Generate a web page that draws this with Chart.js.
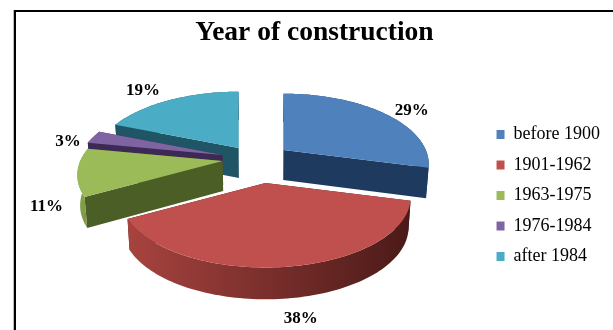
<!DOCTYPE html>
<html>
<head>
<meta charset="utf-8">
<title>Year of construction</title>
<script src="https://cdn.jsdelivr.net/npm/chart.js@4/dist/chart.umd.js"></script>
<style>
    html, body { margin: 0; padding: 0; background: #fff; overflow: hidden; }
    #frame {
        position: absolute; left: 14px; top: 10px; width: 599px; height: 325px;
        border-top: 2px solid #000; border-left: 2px solid #000;
        box-shadow: -1px 0 0 #bbb;
    }
    #frame canvas { display: block; }
</style>
</head>
<body>
<div id="frame"><canvas id="pie" width="597" height="323"></canvas></div>
<script>
const categories = ['before 1900', '1901-1962', '1963-1975', '1976-1984', 'after 1984'];
const shares = [29, 38, 11, 3, 19];

const topColors = ['#4f81bd', '#c0504d', '#9bbb59', '#8064a2', '#4bacc6'];
const cutColors = ['#1f3a5f', '#4a1a18', '#4a5e25', '#3c2a55', '#1f5564'];
const wallLeft = ['#1f3a5f', '#a8433f', '#8aa64e', '#3c2a55', '#1f5564'];
const wallRight = ['#1f3a5f', '#4a1a18', '#7a9445', '#3c2a55', '#1f5564'];

// how far each slice is pulled out of the pie, in pixels
const explode = [[21, -11], [3, 22], [-40, 0], [-40, -6], [-24, -13]];
// label nudge away from the rim of its slice
const labelNudge = [[28, -2], [13, 52], [-31, 35], [-25, 4], [-27, -9]];
// back slices first so nearer ones cover them
const paintOrder = [0, 1, 4, 3, 2];

const pie3d = {
    id: 'pie3d',

    project(o, arc, theta, r, idx, drop) {
        const u = r * Math.sin(theta);
        const v = -r * Math.cos(theta);
        const w = 1 / (1 - o.perspective * v);
        const cx = arc.x + o.shiftX;
        const x = cx + explode[idx][0] + arc.outerRadius * u * w;
        const y = arc.y + o.shiftY + explode[idx][1] - o.height + arc.outerRadius * o.squash * v * w;
        if (!drop) return { x, y };
        // the base plane shrinks slightly towards the middle of the pie
        return {
            x: cx + (x - cx) * o.baseScale,
            y: y + o.height * (1 + 0.06 * v),
        };
    },

    drawSlice(chart, o, arc, idx) {
        const ctx = chart.ctx;
        const a0 = arc.startAngle + Math.PI / 2;
        const a1 = arc.endAngle + Math.PI / 2;
        const steps = Math.max(4, Math.ceil((a1 - a0) * 40));
        const rim = [];
        const baseRim = [];
        for (let i = 0; i <= steps; i++) {
            const t = a0 + (a1 - a0) * i / steps;
            rim.push(this.project(o, arc, t, 1, idx, false));
            baseRim.push(this.project(o, arc, t, 1, idx, true));
        }
        const apex = this.project(o, arc, a0, 0, idx, false);
        const baseApex = this.project(o, arc, a0, 0, idx, true);

        const fillPoly = (pts, color) => {
            ctx.beginPath();
            pts.forEach((p, i) => (i ? ctx.lineTo(p.x, p.y) : ctx.moveTo(p.x, p.y)));
            ctx.closePath();
            ctx.fillStyle = color;
            ctx.fill();
        };

        // cut faces
        fillPoly([apex, rim[0], baseRim[0], baseApex], cutColors[idx]);
        fillPoly([apex, rim[steps], baseRim[steps], baseApex], cutColors[idx]);

        // curved outer wall, shaded left to right
        const xs = rim.map((p) => p.x);
        const grad = ctx.createLinearGradient(Math.min(...xs), 0, Math.max(...xs), 0);
        grad.addColorStop(0, wallLeft[idx]);
        grad.addColorStop(1, wallRight[idx]);
        fillPoly(rim.concat(baseRim.slice().reverse()), grad);

        // top face
        fillPoly([apex].concat(rim), arc.options.backgroundColor);
    },

    // returning false replaces the flat arcs with the extruded ones
    beforeDatasetDraw(chart, args, o) {
        const arcs = chart.getDatasetMeta(args.index).data;
        const ctx = chart.ctx;
        ctx.save();
        paintOrder.forEach((idx) => this.drawSlice(chart, o, arcs[idx], idx));
        ctx.restore();
        return false;
    },

    afterDatasetsDraw(chart, args, o) {
        const arcs = chart.getDatasetMeta(0).data;
        const ctx = chart.ctx;
        ctx.save();
        ctx.font = o.labelFont;
        ctx.fillStyle = '#000';
        ctx.textAlign = 'center';
        ctx.textBaseline = 'middle';
        arcs.forEach((arc, idx) => {
            const mid = (arc.startAngle + arc.endAngle) / 2 + Math.PI / 2;
            const p = this.project(o, arc, mid, 1, idx, false);
            ctx.fillText(shares[idx] + '%', p.x + labelNudge[idx][0], p.y + labelNudge[idx][1]);
        });
        ctx.restore();
    },
};

new Chart(document.getElementById('pie'), {
    type: 'pie',
    data: {
        labels: categories,
        datasets: [{ data: shares, backgroundColor: topColors, borderWidth: 0 }],
    },
    plugins: [pie3d],
    options: {
        responsive: false,
        animation: false,
        radius: '102%',
        layout: { padding: { left: 3, right: 3 } },
        plugins: {
            tooltip: { enabled: false },
            title: {
                display: true,
                text: 'Year of construction',
                color: '#000',
                font: { family: '"Liberation Serif"', size: 27.5, weight: 'bold' },
                padding: { top: 4, bottom: 7 },
            },
            legend: {
                position: 'right',
                fullSize: false,
                labels: {
                    color: '#000',
                    boxWidth: 8,
                    boxHeight: 9,
                    padding: 12.5,
                    font: { family: '"Liberation Serif"', size: 18 },
                },
            },
            pie3d: {
                squash: 0.475,
                perspective: 0.2,
                height: 30,
                baseScale: 0.985,
                shiftX: 11,
                shiftY: -4.5,
                labelFont: 'bold 17px "Liberation Serif"',
            },
        },
    },
});
</script>
</body>
</html>
